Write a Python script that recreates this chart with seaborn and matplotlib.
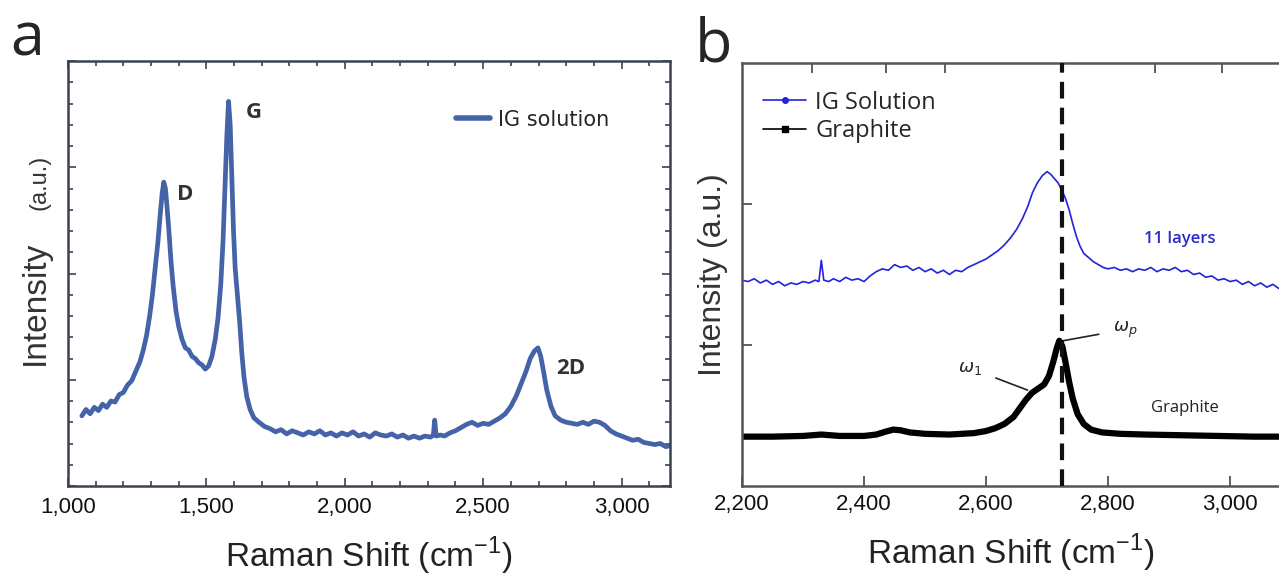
import numpy as np
import pandas as pd
import matplotlib
matplotlib.use("Agg")
import matplotlib.pyplot as plt
from matplotlib.lines import Line2D
from matplotlib.ticker import MultipleLocator, FuncFormatter, FixedLocator
import seaborn as sns

sns.set_style("white")
plt.rcParams["font.family"] = ["Liberation Sans", "DejaVu Sans"]

# ---- panel a: full Raman spectrum of the IG solution ----
shift_a = [1050, 1065, 1080, 1095, 1110, 1125, 1140, 1155, 1170, 1185, 1200, 1215, 1230, 1245,
           1260, 1272, 1284, 1295, 1305, 1315, 1325, 1333, 1340, 1346, 1352, 1358, 1364, 1372,
           1380, 1390, 1400, 1412, 1424, 1436, 1448, 1460, 1472, 1484, 1496, 1508, 1520, 1532,
           1542, 1552, 1560, 1567, 1574, 1580, 1586, 1592, 1598, 1604, 1612, 1620, 1628, 1636,
           1646, 1658, 1672, 1690, 1710, 1730, 1750, 1770, 1790, 1810, 1830, 1850, 1870, 1890,
           1910, 1930, 1950, 1970, 1990, 2010, 2030, 2050, 2070, 2090, 2110, 2130, 2150, 2170,
           2190, 2210, 2230, 2250, 2270, 2290, 2310, 2320, 2325, 2330, 2345, 2360, 2380, 2400,
           2420, 2440, 2460, 2480, 2500, 2520, 2540, 2560, 2580, 2600, 2620, 2640, 2655, 2670,
           2685, 2698, 2708, 2718, 2730, 2745, 2760, 2780, 2800, 2820, 2840, 2860, 2880, 2900,
           2920, 2940, 2960, 2980, 3000, 3020, 3040, 3060, 3080, 3100, 3120, 3140, 3160, 3175]
intensity_a = [0.66, 0.72, 0.68, 0.74, 0.71, 0.77, 0.74, 0.80, 0.79, 0.86, 0.88, 0.95, 0.99, 1.08,
               1.17, 1.28, 1.42, 1.60, 1.80, 2.05, 2.30, 2.55, 2.75, 2.86, 2.80, 2.62, 2.42, 2.12,
               1.88, 1.65, 1.50, 1.38, 1.30, 1.28, 1.22, 1.20, 1.16, 1.14, 1.10, 1.13, 1.22, 1.38,
               1.58, 1.90, 2.30, 2.80, 3.30, 3.62, 3.40, 2.90, 2.40, 2.05, 1.80, 1.55, 1.25, 1.02,
               0.84, 0.72, 0.64, 0.60, 0.56, 0.54, 0.51, 0.53, 0.49, 0.52, 0.50, 0.48, 0.51, 0.49,
               0.52, 0.48, 0.50, 0.47, 0.50, 0.48, 0.51, 0.47, 0.49, 0.46, 0.50, 0.48, 0.47, 0.49,
               0.46, 0.48, 0.45, 0.47, 0.45, 0.47, 0.46, 0.48, 0.62, 0.47, 0.48, 0.47, 0.50, 0.52,
               0.55, 0.58, 0.60, 0.57, 0.59, 0.58, 0.61, 0.64, 0.68, 0.75, 0.85, 0.98, 1.08, 1.20,
               1.27, 1.30, 1.22, 1.08, 0.90, 0.75, 0.66, 0.62, 0.60, 0.59, 0.58, 0.60, 0.58, 0.61,
               0.60, 0.57, 0.52, 0.49, 0.47, 0.45, 0.43, 0.44, 0.41, 0.40, 0.39, 0.40, 0.37, 0.38]
peak_names = ["D", "G", "2D"]
peak_label_x = [1424, 1672, 2817]
peak_label_y = [2.74, 3.52, 1.11]

# ---- panel b: 2D band, IG solution vs graphite ----
shift_ig = [2200, 2210, 2220, 2230, 2240, 2250, 2260, 2270, 2280, 2290, 2300, 2310, 2320, 2326,
            2330, 2334, 2342, 2350, 2360, 2370, 2380, 2390, 2400, 2410, 2420, 2430, 2440, 2450,
            2460, 2470, 2480, 2490, 2500, 2510, 2520, 2530, 2540, 2550, 2560, 2570, 2580, 2590,
            2600, 2610, 2620, 2630, 2640, 2650, 2660, 2668, 2676, 2684, 2692, 2700, 2706, 2712,
            2718, 2724, 2730, 2736, 2742, 2748, 2754, 2760, 2768, 2776, 2784, 2792, 2800, 2810,
            2820, 2830, 2840, 2850, 2860, 2870, 2880, 2890, 2900, 2910, 2920, 2930, 2940, 2950,
            2960, 2970, 2980, 2990, 3000, 3010, 3020, 3030, 3040, 3050, 3060, 3070, 3080]
intensity_ig = [1.46, 1.45, 1.47, 1.44, 1.46, 1.43, 1.45, 1.42, 1.44, 1.43, 1.45, 1.44, 1.46, 1.45,
                1.60, 1.46, 1.45, 1.47, 1.45, 1.48, 1.46, 1.47, 1.45, 1.49, 1.52, 1.54, 1.53, 1.57,
                1.55, 1.56, 1.53, 1.55, 1.52, 1.54, 1.51, 1.53, 1.50, 1.53, 1.52, 1.55, 1.57, 1.59,
                1.61, 1.64, 1.67, 1.71, 1.76, 1.82, 1.90, 1.98, 2.08, 2.15, 2.20, 2.23, 2.21, 2.18,
                2.15, 2.10, 2.04, 1.96, 1.86, 1.77, 1.70, 1.65, 1.62, 1.59, 1.57, 1.55, 1.54, 1.55,
                1.53, 1.54, 1.52, 1.54, 1.53, 1.55, 1.52, 1.54, 1.53, 1.55, 1.52, 1.53, 1.50, 1.51,
                1.48, 1.49, 1.46, 1.47, 1.45, 1.46, 1.43, 1.45, 1.42, 1.44, 1.41, 1.43, 1.40]
shift_gr = [2200, 2250, 2300, 2330, 2360, 2400, 2420, 2435, 2448, 2460, 2475, 2500, 2540, 2580,
            2600, 2615, 2630, 2645, 2655, 2665, 2675, 2685, 2695, 2703, 2710, 2716, 2720, 2725,
            2730, 2736, 2742, 2750, 2760, 2772, 2790, 2820, 2860, 2920, 2980, 3040, 3080]
intensity_gr = [0.35, 0.35, 0.355, 0.365, 0.355, 0.355, 0.365, 0.385, 0.40, 0.395, 0.38, 0.37,
                0.365, 0.375, 0.39, 0.41, 0.44, 0.49, 0.55, 0.61, 0.66, 0.69, 0.72, 0.78, 0.88,
                0.98, 1.03, 0.99, 0.88, 0.74, 0.62, 0.51, 0.44, 0.40, 0.38, 0.37, 0.365, 0.36,
                0.355, 0.35, 0.35]
peak_position = 2724
top_ticks_b = [2315, 2436, 2533, 2876, 2987]

BLUE_A = "#4563a8"
FRAME_A = "#3b4350"

fig = plt.figure(figsize=(12.79, 5.77), dpi=100)
W, H = 1279, 577


def px_axes(left, top, right, bottom):
    return fig.add_axes([left / W, 1 - bottom / H, (right - left) / W, (bottom - top) / H])


tick_family = ["Liberation Sans Narrow", "Liberation Sans", "DejaVu Sans"]
thousands = FuncFormatter(lambda v, p: f"{int(v):,}")

# ---------------- panel a ----------------
ax_a = px_axes(68, 61, 670, 486)
df_a = pd.DataFrame({"shift": shift_a, "intensity": intensity_a})
sns.lineplot(data=df_a, x="shift", y="intensity", ax=ax_a, color=BLUE_A, lw=3.4,
             estimator=None, legend=False)
ax_a.set_xlim(1000, 3175)
ax_a.set_ylim(0, 4)
ax_a.xaxis.set_major_locator(MultipleLocator(500))
ax_a.xaxis.set_minor_locator(MultipleLocator(100))
ax_a.yaxis.set_major_locator(MultipleLocator(1))
ax_a.yaxis.set_minor_locator(MultipleLocator(0.2))
ax_a.xaxis.set_major_formatter(thousands)
ax_a.set_yticklabels([])
ax_a.tick_params(which="both", direction="in", top=True, right=True, left=True, bottom=True,
                 color=FRAME_A, width=1.2)
ax_a.tick_params(which="major", length=6)
ax_a.tick_params(which="minor", length=3.5)
ax_a.tick_params(axis="x", which="major", pad=8, labelcolor="#111111")
for lab in ax_a.get_xticklabels():
    lab.set_fontfamily(tick_family)
    lab.set_fontsize(16)
for s in ax_a.spines.values():
    s.set_color(FRAME_A)
    s.set_linewidth(1.8)
ax_a.set_xlabel("Raman Shift (cm$^{\\mathregular{-1}}$)", fontsize=24, color="#222222", labelpad=12)
ax_a.set_ylabel("")
for name, x, y in zip(peak_names, peak_label_x, peak_label_y):
    ax_a.text(x, y, name, fontsize=16, fontweight="bold", color="#333333",
              ha="center", va="center", family=["Open Sans", "DejaVu Sans"])
ax_a.legend(handles=[Line2D([], [], color=BLUE_A, lw=4)], labels=["IG solution"],
            loc="upper right", bbox_to_anchor=(0.93, 0.93), frameon=False,
            handlelength=1.6, handletextpad=0.4,
            prop={"family": ["Liberation Sans Narrow", "DejaVu Sans"], "size": 15})
fig.text(35 / W, 1 - 303 / H, "Intensity", rotation=90, fontsize=24, color="#333333",
         ha="center", va="center")
fig.text(39 / W, 1 - 182 / H, "(a.u.)", rotation=90, fontsize=17, color="#333333",
         ha="center", va="center")
fig.text(10 / W, 1 - 40 / H, "a", fontsize=44, ha="left", va="center",
         family=["Open Sans", "DejaVu Sans"])

# ---------------- panel b ----------------
ax_b = px_axes(742, 63, 1279, 486)
df_ig = pd.DataFrame({"shift": shift_ig, "intensity": intensity_ig})
df_gr = pd.DataFrame({"shift": shift_gr, "intensity": intensity_gr})
sns.lineplot(data=df_ig, x="shift", y="intensity", ax=ax_b, color="#2222dd", lw=1.2,
             estimator=None, legend=False)
sns.lineplot(data=df_gr, x="shift", y="intensity", ax=ax_b, color="black", lw=4.5,
             estimator=None, legend=False)
ax_b.axvline(peak_position, color="#111111", lw=3, ls=(0, (4, 2.2)), zorder=5)
ax_b.set_xlim(2200, 3080)
ax_b.set_ylim(0, 3)
ax_b.xaxis.set_major_locator(MultipleLocator(200))
ax_b.xaxis.set_major_formatter(thousands)
ax_b.yaxis.set_major_locator(FixedLocator([1, 2]))
ax_b.set_yticklabels([])
ax_b.tick_params(which="major", direction="in", length=7, width=1.2, color="#444444",
                 left=True, bottom=True, pad=6, labelcolor="#111111")
for lab in ax_b.get_xticklabels():
    lab.set_fontfamily(tick_family)
    lab.set_fontsize(16)
ax_b.spines["right"].set_visible(False)
for side in ["left", "bottom", "top"]:
    ax_b.spines[side].set_color("#555555")
    ax_b.spines[side].set_linewidth(1.8)
top_b = ax_b.secondary_xaxis("top")
top_b.set_xticks(top_ticks_b)
top_b.set_xticklabels([])
top_b.tick_params(direction="in", length=7, width=1.2, color="#444444")
top_b.spines["top"].set_visible(False)
ax_b.set_xlabel("Raman Shift (cm$^{\\mathregular{-1}}$)", fontsize=24, color="#222222", labelpad=12)
ax_b.set_ylabel("Intensity (a.u.)", fontsize=23, color="#333333", labelpad=4)
ax_b.text(2918, 1.75, "11 layers", fontsize=12, color="#2a2acc", fontweight="semibold",
          ha="center", va="center", family=["Open Sans", "DejaVu Sans"])
ax_b.text(2925, 0.55, "Graphite", fontsize=12, color="#222222",
          ha="center", va="center", family=["Open Sans", "DejaVu Sans"])
ax_b.annotate(r"$\omega_1$", xy=(2668, 0.68), xytext=(2574, 0.835), fontsize=13,
              ha="center", va="center",
              arrowprops=dict(arrowstyle="-", color="#222222", lw=1.2, shrinkA=8, shrinkB=0))
ax_b.annotate(r"$\omega_p$", xy=(2726, 1.03), xytext=(2828, 1.11), fontsize=13,
              ha="center", va="center",
              arrowprops=dict(arrowstyle="-", color="#222222", lw=1.2, shrinkA=8, shrinkB=0))
ax_b.legend(handles=[Line2D([], [], color="#2222dd", lw=1.2, marker="o", ms=4),
                     Line2D([], [], color="black", lw=1.2, marker="s", ms=4)],
            labels=["IG Solution", "Graphite"], loc="upper left", bbox_to_anchor=(0.0, 0.985),
            frameon=False, handlelength=1.8, handletextpad=0.4, labelspacing=0.2,
            prop={"family": ["Open Sans", "DejaVu Sans"], "size": 17})
fig.text(695 / W, 1 - 45 / H, "b", fontsize=44, ha="left", va="center",
         family=["Open Sans", "DejaVu Sans"])

fig.savefig("out.png", dpi=100)
